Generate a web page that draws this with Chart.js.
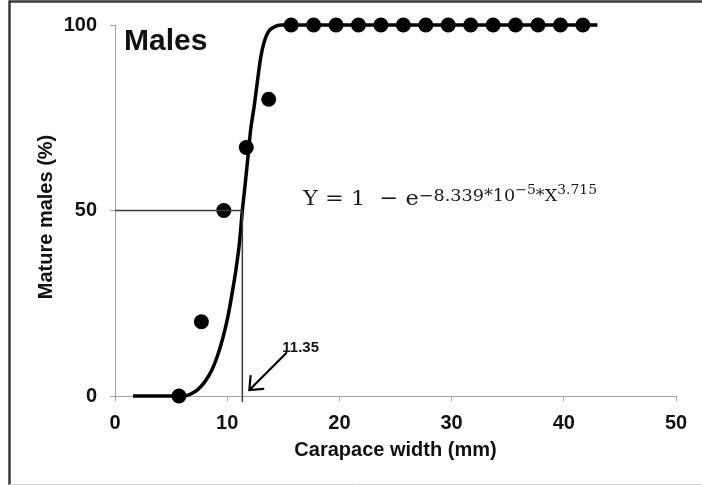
<!DOCTYPE html>
<html>
<head>
<meta charset="utf-8">
<title>Males maturity</title>
<script src="https://cdn.jsdelivr.net/npm/chart.js@4.4.1/dist/chart.umd.min.js"></script>
<style>
  html, body { margin: 0; padding: 0; background: #fff; }
  canvas { display: block; }
</style>
</head>
<body>
<canvas id="maturityChart" width="702" height="485"></canvas>
<script>
// observed proportion of mature males per carapace width class
const widthClasses = [5.7, 7.7, 9.7, 11.7, 13.7, 15.7, 17.7, 19.7, 21.7, 23.7, 25.7, 27.7, 29.7, 31.7, 33.7, 35.7, 37.7, 39.7, 41.7];
const maturePct = [0, 20, 50, 67, 80, 100, 100, 100, 100, 100, 100, 100, 100, 100, 100, 100, 100, 100, 100];

// fitted maturity curve
const curveX = [1.6, 4, 6.2, 6.8, 7.4, 8, 8.6, 9.1, 9.6, 10, 10.4, 10.8, 11.1, 11.35, 11.6, 11.85, 12.1, 12.4, 12.7, 13, 13.3, 13.7, 14.2, 14.8, 15.6, 25, 35, 43];
const curveY = [0, 0, 0, 0.6, 1.8, 3.8, 6.8, 10.5, 15.5, 20.5, 27, 34.5, 41.5, 50, 57, 64.5, 72, 78, 85, 91.5, 95.5, 98.3, 99.5, 100, 100, 100, 100, 100];

// size at 50% maturity
const l50 = 11.35;
const halfPct = 50;

const xTicks = [0, 10, 20, 30, 40, 50];
const yTicks = [0, 50, 100];

const toPoints = (xs, ys) => xs.map((x, i) => ({ x: x, y: ys[i] }));

const axisGray = "#a3a3a3";
const tickFont = { family: "'Liberation Sans', Arial, sans-serif", size: 20, weight: "bold" };

// fitted equation: text, font size, baseline offset
const eqSerif = "'DejaVu Serif', 'Liberation Serif', serif";
const eqParts = [
  ["Y = 1  \u2212 e", 21, 0],
  ["\u22128.339*10", 16.5, -4.5],
  ["\u22125", 13, -11],
  ["*X", 16.5, -4.5],
  ["3.715", 13, -11]
];

/* ---- Text, arrow and frame drawn on top of the chart ---- */
const annotations = {
  id: "annotations",
  beforeDraw(chart) {
    const ctx = chart.ctx;
    ctx.save();
    ctx.fillStyle = "#fff";
    ctx.fillRect(0, 0, chart.width, chart.height);
    ctx.restore();
  },
  afterDraw(chart) {
    const ctx = chart.ctx;
    const xs = chart.scales.x;
    const ys = chart.scales.y;
    const area = chart.chartArea;
    ctx.save();

    // frame
    ctx.strokeStyle = "#3a3a3a";
    ctx.lineWidth = 2.5;
    ctx.beginPath();
    ctx.moveTo(9.5, 485);
    ctx.lineTo(9.5, 1.5);
    ctx.lineTo(702, 1.5);
    ctx.stroke();
    ctx.strokeStyle = "#d0d0d0";
    ctx.lineWidth = 1;
    ctx.beginPath();
    ctx.moveTo(9, 484.5);
    ctx.lineTo(702, 484.5);
    ctx.stroke();

    ctx.fillStyle = "#111";
    ctx.font = "bold 20px 'Liberation Sans', Arial, sans-serif";
    ctx.textAlign = "center";
    ctx.textBaseline = "middle";
    ctx.fillText("Carapace width (mm)", (area.left + area.right) / 2, 450);

    ctx.save();
    ctx.translate(46, 217);
    ctx.rotate(-Math.PI / 2);
    ctx.fillText("Mature males (%)", 0, 0);
    ctx.restore();

    ctx.textAlign = "left";
    ctx.textBaseline = "alphabetic";
    ctx.font = "bold 30px 'Liberation Sans', Arial, sans-serif";
    ctx.fillText("Males", 124, 50);

    // arrow pointing at L50 on the x axis
    const tipX = xs.getPixelForValue(l50) + 7;
    const tipY = ys.getPixelForValue(0) - 6;
    const tailX = tipX + 37;
    const tailY = tipY - 37;
    ctx.strokeStyle = "#000";
    ctx.lineWidth = 2.2;
    ctx.lineCap = "round";
    ctx.beginPath();
    ctx.moveTo(tailX, tailY);
    ctx.lineTo(tipX, tipY);
    const ang = Math.atan2(tailY - tipY, tailX - tipX);
    const arm = 14;
    ctx.moveTo(tipX + arm * Math.cos(ang + 0.7), tipY + arm * Math.sin(ang + 0.7));
    ctx.lineTo(tipX, tipY);
    ctx.lineTo(tipX + arm * Math.cos(ang - 0.7), tipY + arm * Math.sin(ang - 0.7));
    ctx.stroke();

    ctx.font = "bold 15px 'Liberation Sans', Arial, sans-serif";
    ctx.fillText(l50.toFixed(2), tailX - 4, tailY - 1);

    // fitted equation, laid out left to right then fitted to its span
    const eqLeft = 303, eqRight = 597, eqBase = 205;
    let total = 0;
    eqParts.forEach(([txt, size]) => {
      ctx.font = size + "px " + eqSerif;
      total += ctx.measureText(txt).width;
    });
    ctx.save();
    ctx.translate(eqLeft, eqBase);
    ctx.scale((eqRight - eqLeft) / total, 1);
    ctx.fillStyle = "#1a1a1a";
    let x = 0;
    eqParts.forEach(([txt, size, dy]) => {
      ctx.font = size + "px " + eqSerif;
      ctx.fillText(txt, x, dy);
      x += ctx.measureText(txt).width;
    });
    ctx.restore();

    ctx.restore();
  }
};

const ctx = document.getElementById("maturityChart");
new Chart(ctx, {
  type: "scatter",
  data: {
    datasets: [
      {
        type: "line",
        label: "50% line",
        data: toPoints([0, l50], [halfPct, halfPct]),
        borderColor: "#3c3c3c",
        borderWidth: 1.5,
        pointRadius: 0,
        clip: false
      },
      {
        type: "line",
        label: "L50",
        data: toPoints([l50, l50], [halfPct, -1.6]),
        borderColor: "#3c3c3c",
        borderWidth: 1.5,
        pointRadius: 0,
        clip: false
      },
      {
        type: "line",
        label: "Fitted",
        data: toPoints(curveX, curveY),
        borderColor: "#000",
        borderWidth: 3.5,
        pointRadius: 0,
        cubicInterpolationMode: "monotone",
        clip: false
      },
      {
        label: "Observed",
        data: toPoints(widthClasses, maturePct),
        backgroundColor: "#000",
        borderWidth: 0,
        pointRadius: 7.5,
        clip: false
      }
    ]
  },
  options: {
    responsive: false,
    animation: false,
    devicePixelRatio: 1,
    layout: { padding: { left: 0, top: 24, right: 26, bottom: 0 } },
    plugins: { legend: { display: false }, tooltip: { enabled: false } },
    scales: {
      x: {
        type: "linear",
        min: 0,
        max: 50,
        afterFit: (s) => { s.height = 89; },
        afterBuildTicks: (s) => { s.ticks = xTicks.map(v => ({ value: v })); },
        ticks: { font: tickFont, color: "#111", padding: 10 },
        grid: { drawOnChartArea: false, color: axisGray, tickLength: 5 },
        border: { color: axisGray, width: 1 }
      },
      y: {
        min: 0,
        max: 100,
        afterFit: (s) => { s.width = 115; },
        afterBuildTicks: (s) => { s.ticks = yTicks.map(v => ({ value: v })); },
        ticks: { font: tickFont, color: "#111", padding: 13 },
        grid: { drawOnChartArea: false, color: axisGray, tickLength: 5 },
        border: { color: axisGray, width: 1 }
      }
    }
  },
  plugins: [annotations]
});
</script>
</body>
</html>
